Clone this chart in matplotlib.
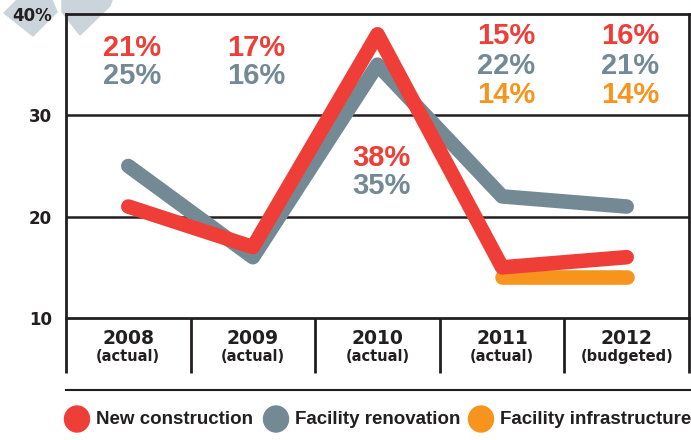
"""Capital spending mix by year: new construction vs renovation vs infrastructure."""

import matplotlib

matplotlib.use("Agg")
import matplotlib.pyplot as plt
from matplotlib.patches import Ellipse, Polygon
from matplotlib.transforms import blended_transform_factory

# ---- data ---------------------------------------------------------------
years = ["2008", "2009", "2010", "2011", "2012"]
status = ["(actual)", "(actual)", "(actual)", "(actual)", "(budgeted)"]
new_construction = [21, 17, 38, 15, 16]
renovation = [25, 16, 35, 22, 21]
infra_years = [3, 4]
infrastructure = [14, 14]
yticks = [10, 20, 30, 40]
ytick_labels = ["10", "20", "30", "40%"]
legend_labels = ["New construction", "Facility renovation", "Facility infrastructure"]

RED = "#EE3E37"
GREY = "#738A94"
ORANGE = "#F7941D"
INK = "#231F20"
W, H = 691, 440

plt.rcParams["font.family"] = ["Liberation Sans", "DejaVu Sans"]


def fpx(x, y):
    """pixel (from top-left) -> figure fraction"""
    return x / W, 1 - y / H


fig = plt.figure(figsize=(W / 100, H / 100), dpi=100)
ax = fig.add_axes([66 / W, 1 - 318 / H, (689 - 66) / W, (318 - 14) / H])
ax.set_facecolor("none")

xs = list(range(len(years)))
lw = 10.5
ax.plot(xs, renovation, color=GREY, lw=lw, solid_capstyle="round",
        solid_joinstyle="round", zorder=3)
ax.plot(infra_years, infrastructure, color=ORANGE, lw=lw, solid_capstyle="round",
        zorder=4)
ax.plot(xs, new_construction, color=RED, lw=lw, solid_capstyle="round",
        solid_joinstyle="round", zorder=5)

ax.set_xlim(-0.5, len(years) - 0.5)
ax.set_ylim(10, 40)
for y in (20, 30):
    ax.axhline(y, color=INK, lw=1.8, zorder=1)
for s in ax.spines.values():
    s.set_color(INK)
    s.set_linewidth(2)
ax.set_xticks([])
ax.set_yticks(yticks)
ax.set_yticklabels(ytick_labels, fontsize=12, fontweight="bold", color=INK,
                   family="DejaVu Sans")
ax.tick_params(axis="y", length=0, pad=10)

# value labels in the upper part of each column
pct_font = dict(fontsize=21, fontweight="bold", ha="center", va="center")
label_rows = {0: (36.6, 33.9), 1: (36.6, 33.9), 2: (25.8, 23.0),
              3: (37.8, 34.9, 32.0), 4: (37.8, 34.9, 32.0)}
for i in xs:
    rows = label_rows[i]
    ax.text(i + 0.03, rows[0], f"{new_construction[i]}%", color=RED, **pct_font)
    ax.text(i + 0.03, rows[1], f"{renovation[i]}%", color=GREY, **pct_font)
for i, v in zip(infra_years, infrastructure):
    ax.text(i + 0.03, label_rows[i][2], f"{v}%", color=ORANGE, **pct_font)

# category table under the axis
tr = blended_transform_factory(ax.transData, ax.transAxes)
for b in [x - 0.5 for x in xs] + [xs[-1] + 0.5]:
    ax.plot([b, b], [0, -0.181], transform=tr, color=INK, lw=2,
            clip_on=False, solid_capstyle="butt")
for i in xs:
    ax.text(i, -0.068, years[i], transform=tr, ha="center", va="center",
            fontsize=13.5, fontweight="bold", color=INK, family="DejaVu Sans")
    ax.text(i, -0.127, status[i], transform=tr, ha="center", va="center",
            fontsize=10.5, fontweight="bold", color=INK, family="DejaVu Sans")

fig.add_artist(plt.Line2D([66 / W, 1], [fpx(0, 390)[1]] * 2, color=INK, lw=1.5,
                          transform=fig.transFigure))

# legend
for lab, col, cx in zip(legend_labels, [RED, GREY, ORANGE], [77, 276, 481]):
    x, y = fpx(cx, 419)
    fig.add_artist(Ellipse((x, y), 25 / W, 26 / H, color=col,
                           transform=fig.transFigure))
    fig.text(x + 19 / W, y, lab, ha="left", va="center", fontsize=13.5,
             fontweight="bold", color=INK)

# faded decoration top-left
deco = "#CBD4DA"
for pts in ([(4, 13), (17, 0), (52, 0), (57, 12), (33, 36)],
            [(62, 0), (112, 0), (110, 6), (80, 35), (62, 12)]):
    fig.add_artist(Polygon([fpx(*p) for p in pts], closed=True, color=deco,
                           transform=fig.transFigure, zorder=-1))

fig.savefig("out.png", dpi=100)
